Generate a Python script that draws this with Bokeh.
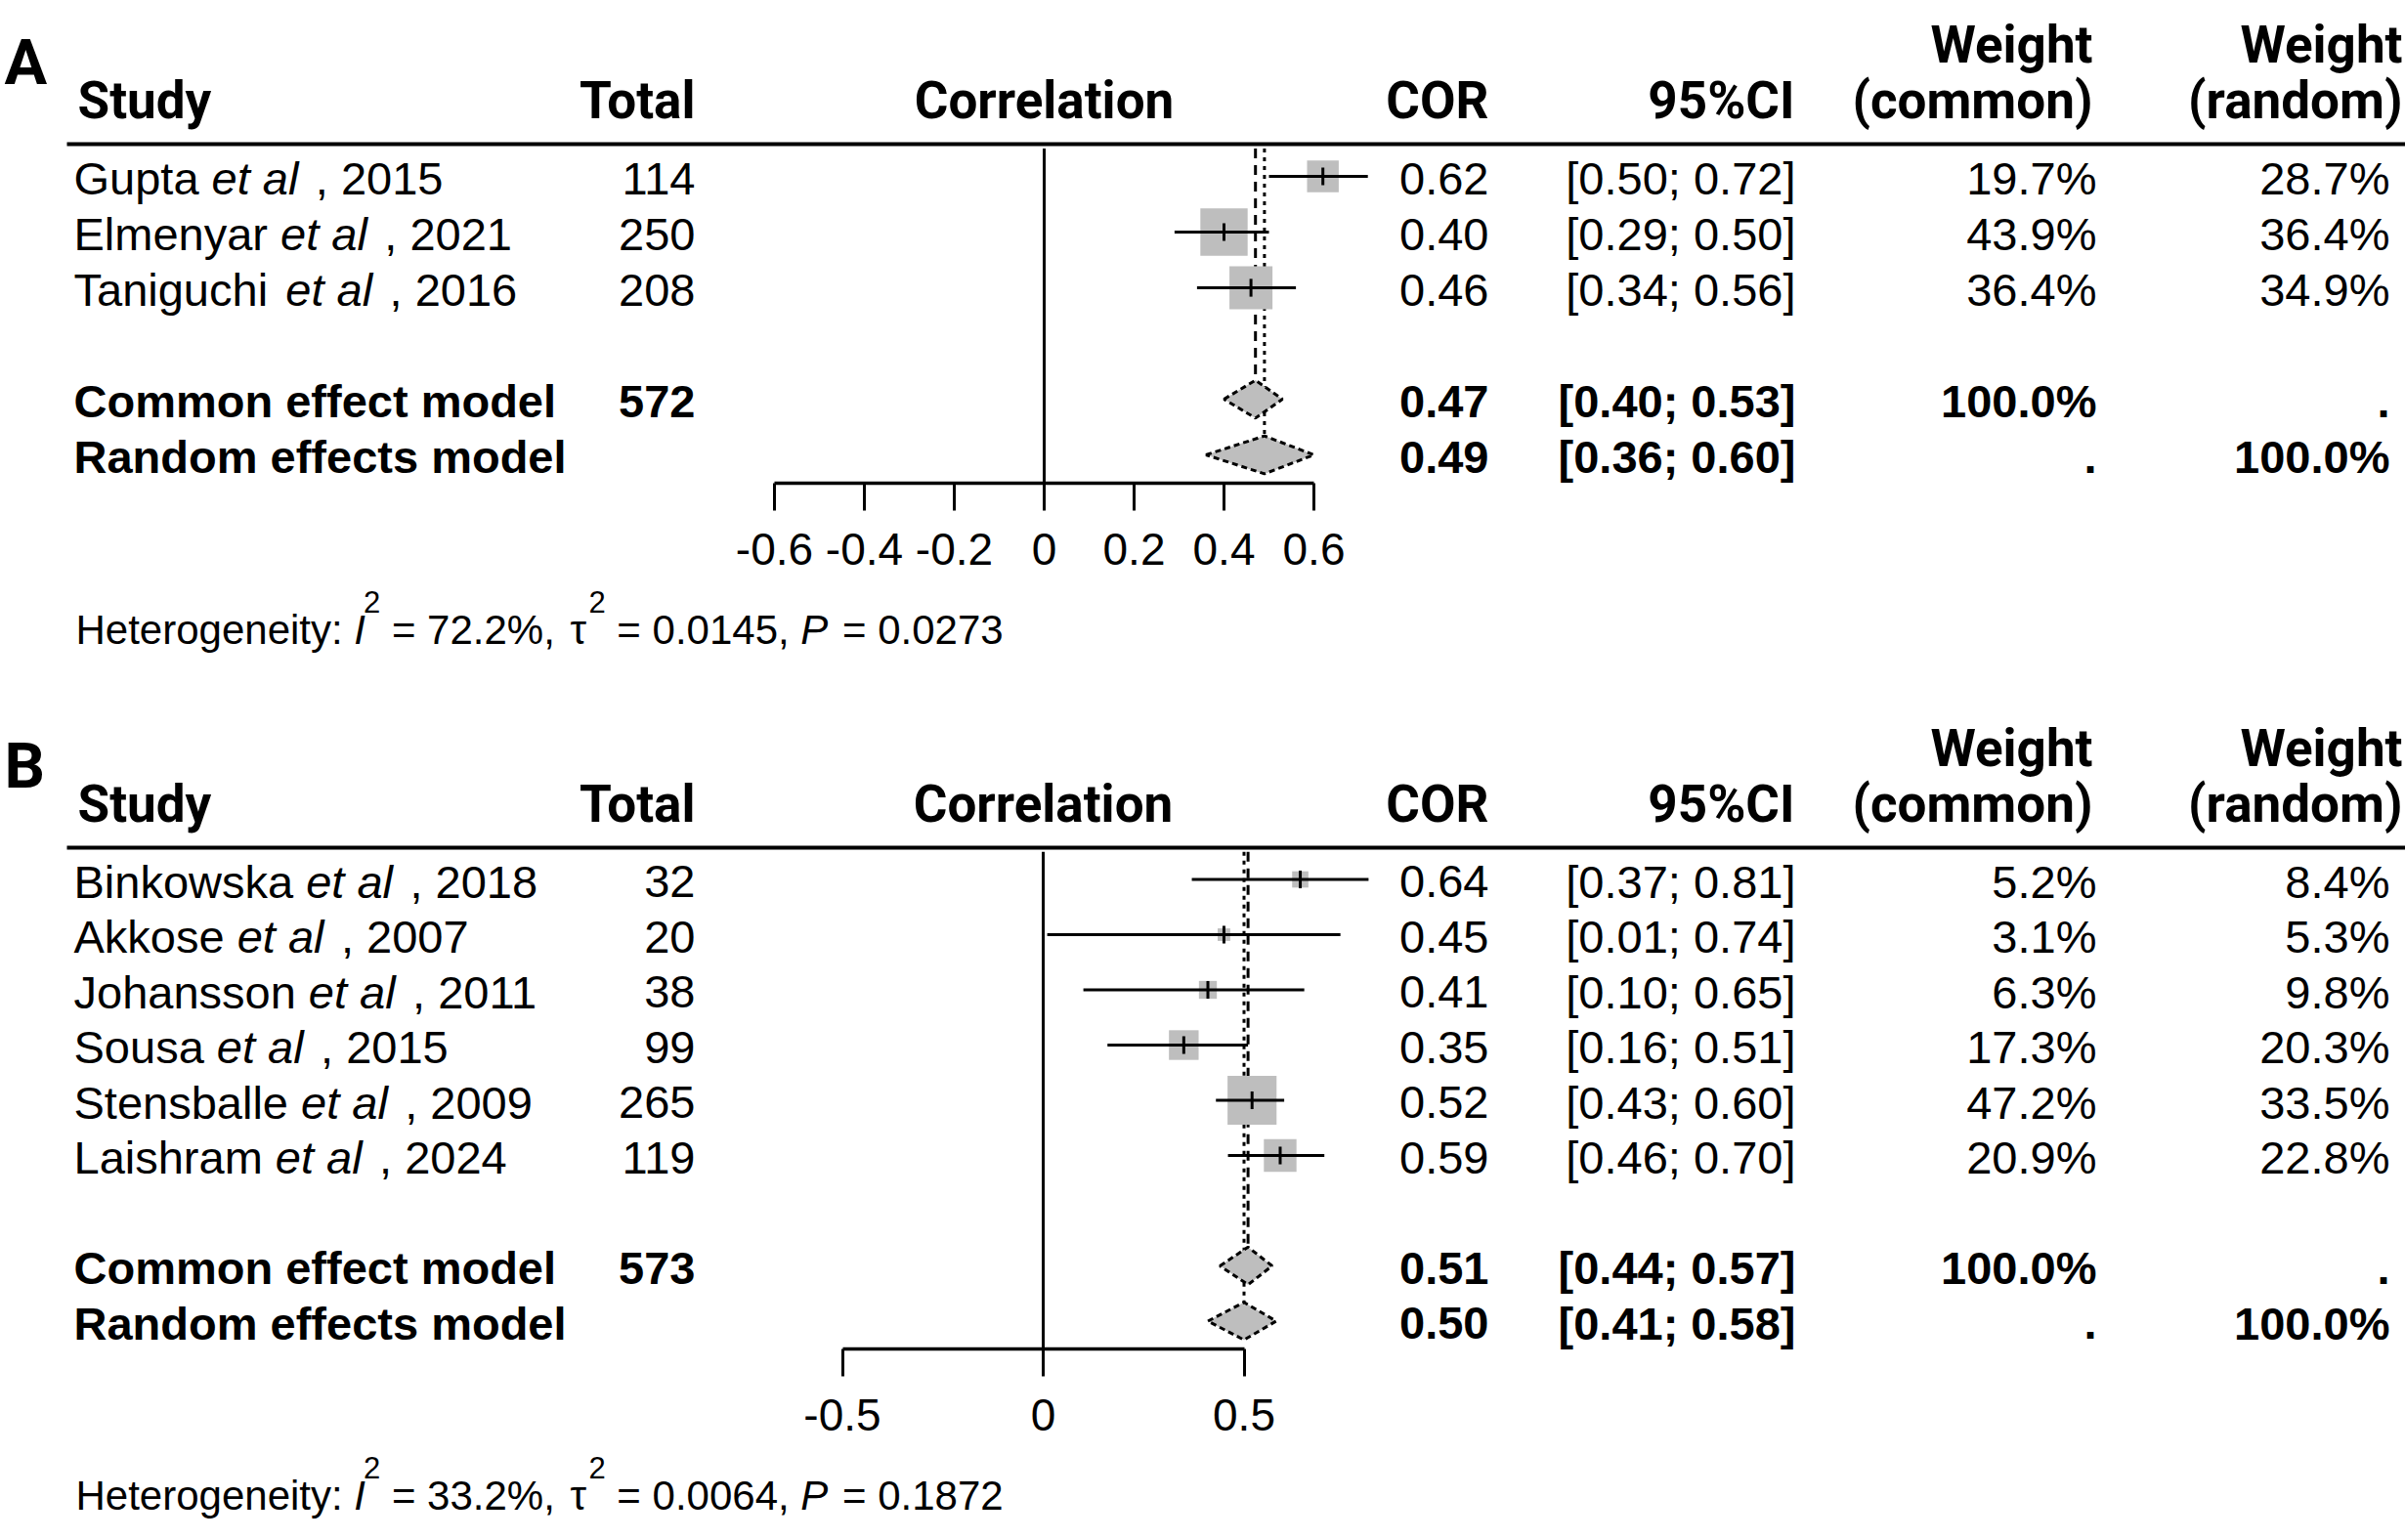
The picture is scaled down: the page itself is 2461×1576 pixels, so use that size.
from bokeh.plotting import figure
from bokeh.models import Range1d, LinearAxis, FixedTicker, ColumnDataSource
from bokeh.core.properties import value
from bokeh.embed import file_html
from bokeh.resources import INLINE

W, H = 2461, 1576

# ---------------- Panel A ----------------
a_author = ["Gupta", "Elmenyar", "Taniguchi"]
a_year = [2015, 2021, 2016]
a_total = [114, 250, 208]
a_cor = [0.62, 0.40, 0.46]
a_lower = [0.50, 0.29, 0.34]
a_upper = [0.72, 0.50, 0.56]
a_weight_common = [19.7, 43.9, 36.4]
a_weight_random = [28.7, 36.4, 34.9]
a_total_pooled = 572
a_common = [0.47, 0.40, 0.53]      # estimate, lower, upper
a_random = [0.49, 0.36, 0.60]
a_i2, a_tau2, a_pval = "72.2%", "0.0145", "0.0273"
a_ticks = [-0.6, -0.4, -0.2, 0, 0.2, 0.4, 0.6]
a_tick_labels = ["-0.6", "-0.4", "-0.2", "0", "0.2", "0.4", "0.6"]

# ---------------- Panel B ----------------
b_author = ["Binkowska", "Akkose", "Johansson", "Sousa", "Stensballe", "Laishram"]
b_year = [2018, 2007, 2011, 2015, 2009, 2024]
b_total = [32, 20, 38, 99, 265, 119]
b_cor = [0.64, 0.45, 0.41, 0.35, 0.52, 0.59]
b_lower = [0.37, 0.01, 0.10, 0.16, 0.43, 0.46]
b_upper = [0.81, 0.74, 0.65, 0.51, 0.60, 0.70]
b_weight_common = [5.2, 3.1, 6.3, 17.3, 47.2, 20.9]
b_weight_random = [8.4, 5.3, 9.8, 20.3, 33.5, 22.8]
b_total_pooled = 573
b_common = [0.51, 0.44, 0.57]
b_random = [0.50, 0.41, 0.58]
b_i2, b_tau2, b_pval = "33.2%", "0.0064", "0.1872"
b_ticks = [-0.5, 0, 0.5]
b_tick_labels = ["-0.5", "0", "0.5"]

BODY = "Liberation Sans"
HEAD = "Roboto"
GRAY = "#bebebe"
LIFT = -18   # baseline correction for text glyphs, screen px

# Arial / Liberation Sans advance widths (em) for laying out mixed-style labels
ADV = {' ': .278, ',': .278, '.': .278, ':': .278, '=': .584, '%': .889, 'τ': .45,
       'A': .667, 'B': .667, 'E': .667, 'G': .778, 'H': .722, 'I': .278, 'J': .5,
       'L': .556, 'P': .667, 'S': .667, 'T': .611,
       'a': .556, 'b': .556, 'c': .5, 'e': .556, 'g': .556, 'h': .556, 'i': .222,
       'k': .5, 'l': .222, 'm': .833, 'n': .556, 'o': .556, 'p': .556, 'r': .333,
       's': .5, 't': .278, 'u': .556, 'w': .722, 'y': .5}
for d in "0123456789":
    ADV[d] = .556


def tw(s, size):
    return sum(ADV.get(c, .556) for c in s) * size


p = figure(width=W, height=H, output_backend="svg", toolbar_location=None,
           x_range=Range1d(0, W), y_range=Range1d(H, 0),
           x_axis_type=None, y_axis_type=None, min_border=0)
p.outline_line_color = None
p.background_fill_color = "white"
p.border_fill_color = "white"


def put_text(x, y, texts, font, size, style="normal", align="left", xr="default", yr="default", y_offset=0):
    src = ColumnDataSource(dict(x=x, y=y, text=texts))
    p.text(x="x", y="y", text="text", source=src, text_font=value(font),
           text_font_size=value(f"{size}px"), text_font_style=style, text_align=align,
           text_baseline="alphabetic", text_color="black",
           x_range_name=xr, y_range_name=yr, y_offset=y_offset + LIFT)


def panel(tag, top, row0, dy, zero_px, unit_px, author, year, total, cor, lower, upper,
          wc, wr, total_pooled, common, random, i2, tau2, pval, ticks, tick_labels):
    xr, yr = "cor" + tag, "rows" + tag
    p.extra_x_ranges[xr] = Range1d(start=-zero_px / unit_px, end=(W - zero_px) / unit_px)
    p.extra_y_ranges[yr] = Range1d(start=(H - row0) / dy, end=-row0 / dy)

    n = len(author)
    rows = list(range(n))
    r_common, r_random = n + 1, n + 2
    axis_row = r_random + 0.5
    axis_px = row0 + axis_row * dy
    half = 0.34

    # panel letter and column headers
    put_text([4], [top + 81], [tag], HEAD, 65, "bold")
    put_text([79], [top + 120], ["Study"], HEAD, 53, "bold")
    put_text([711], [top + 120], ["Total"], HEAD, 53, "bold", "right")
    put_text([0], [top + 120], ["Correlation"], HEAD, 53, "bold", "center", xr=xr)
    put_text([1523], [top + 120], ["COR"], HEAD, 53, "bold", "right")
    put_text([1836], [top + 120], ["95%CI"], HEAD, 53, "bold", "right")
    put_text([2141, 2141], [top + 63, top + 120], ["Weight", "(common)"], HEAD, 53, "bold", "right")
    put_text([2458, 2458], [top + 63, top + 120], ["Weight", "(random)"], HEAD, 53, "bold", "right")
    p.segment(x0=[68], x1=[W], y0=[top + 147], y1=[top + 147], line_color="black", line_width=4)

    # study labels: author, italic "et al", year
    fs = 47
    x_auth = 75
    x_etal = [x_auth + tw(a + " ", fs) for a in author]
    x_year = [x + tw("et al", fs) + 0.37 * fs for x in x_etal]
    put_text([x_auth] * n, rows, author, BODY, fs, yr=yr, y_offset=20)
    put_text(x_etal, rows, ["et al"] * n, BODY, fs, "italic", yr=yr, y_offset=20)
    put_text(x_year, rows, [f", {y}" for y in year], BODY, fs, yr=yr, y_offset=20)

    put_text([711] * n, rows, [str(t) for t in total], BODY, fs, align="right", yr=yr, y_offset=20)
    put_text([1523] * n, rows, [f"{c:.2f}" for c in cor], BODY, fs, align="right", yr=yr, y_offset=20)
    put_text([1837] * n, rows, [f"[{lo:.2f}; {hi:.2f}]" for lo, hi in zip(lower, upper)], BODY, fs,
             align="right", yr=yr, y_offset=20)
    put_text([2145] * n, rows, [f"{w:.1f}%" for w in wc], BODY, fs, align="right", yr=yr, y_offset=20)
    put_text([2445] * n, rows, [f"{w:.1f}%" for w in wr], BODY, fs, align="right", yr=yr, y_offset=20)

    # pooled rows (bold)
    srows = [r_common, r_random]
    put_text([x_auth] * 2, srows, ["Common effect model", "Random effects model"], BODY, fs, "bold", yr=yr, y_offset=20)
    put_text([711], [r_common], [str(total_pooled)], BODY, fs, "bold", "right", yr=yr, y_offset=20)
    put_text([1523] * 2, srows, [f"{common[0]:.2f}", f"{random[0]:.2f}"], BODY, fs, "bold", "right", yr=yr, y_offset=20)
    put_text([1837] * 2, srows, [f"[{common[1]:.2f}; {common[2]:.2f}]", f"[{random[1]:.2f}; {random[2]:.2f}]"],
             BODY, fs, "bold", "right", yr=yr, y_offset=20)
    put_text([2145] * 2, srows, ["100.0%", "."], BODY, fs, "bold", "right", yr=yr, y_offset=20)
    put_text([2445] * 2, srows, [".", "100.0%"], BODY, fs, "bold", "right", yr=yr, y_offset=20)

    # line of no effect
    p.segment(x0=[0], x1=[0], y0=[-0.5], y1=[axis_row], line_color="black", line_width=3,
              x_range_name=xr, y_range_name=yr)
    # pooled estimate reference lines
    p.segment(x0=[common[0]], x1=[common[0]], y0=[-0.5], y1=[r_common - half], line_color="black",
              line_width=3, line_dash="10 7", x_range_name=xr, y_range_name=yr)
    p.segment(x0=[random[0]], x1=[random[0]], y0=[-0.5], y1=[r_random - half], line_color="black",
              line_width=3, line_dash="4 5", x_range_name=xr, y_range_name=yr)

    # study squares sized by common-effect weight
    sq = ColumnDataSource(dict(x=cor, y=rows, size=[7.3 * w ** 0.5 for w in wc],
                               lo=lower, hi=upper,
                               t0=[r - 0.16 for r in rows], t1=[r + 0.16 for r in rows]))
    p.scatter(x="x", y="y", size="size", marker="square", source=sq, fill_color=GRAY,
              line_color=None, x_range_name=xr, y_range_name=yr)
    p.segment(x0="lo", x1="hi", y0="y", y1="y", source=sq, line_color="black", line_width=3,
              x_range_name=xr, y_range_name=yr)
    p.segment(x0="x", x1="x", y0="t0", y1="t1", source=sq, line_color="black", line_width=3,
              x_range_name=xr, y_range_name=yr)

    # pooled diamonds
    xs = [[common[1], common[0], common[2], common[0]], [random[1], random[0], random[2], random[0]]]
    ys = [[r_common, r_common - half, r_common, r_common + half],
          [r_random, r_random - half, r_random, r_random + half]]
    p.patches(xs=xs, ys=ys, fill_color=GRAY, line_color="black", line_width=3, line_dash="6 4",
              x_range_name=xr, y_range_name=yr)

    # correlation axis
    ax = LinearAxis(x_range_name=xr, fixed_location=axis_px, bounds=(ticks[0], ticks[-1]),
                    ticker=FixedTicker(ticks=ticks),
                    major_label_overrides={t: l for t, l in zip(ticks, tick_labels)})
    ax.axis_line_width = 3.5
    ax.axis_line_color = "black"
    ax.major_tick_line_width = 3
    ax.major_tick_line_color = "black"
    ax.major_tick_out = 28
    ax.major_tick_in = 0
    ax.minor_tick_out = 0
    ax.minor_tick_in = 0
    ax.major_label_standoff = 24
    ax.major_label_text_font = BODY
    ax.major_label_text_font_size = "46px"
    ax.major_label_text_color = "black"
    p.add_layout(ax, "below")

    # heterogeneity statement (pieces laid out left to right; leading blanks become an x advance)
    base = axis_px + 168
    pieces = [("Heterogeneity: ", "normal", 42, 0, 0), ("I", "italic", 42, 0, -2), ("2", "normal", 31, 28, 0),
              (f" = {i2}, ", "normal", 42, 0, 4), ("τ", "normal", 42, 0, 0), ("2", "normal", 31, 28, 0),
              (f" = {tau2}, ", "normal", 42, 0, 0), ("P", "italic", 42, 0, 3), (f" = {pval}", "normal", 42, 0, 0)]
    x = 77
    for text, style, size, rise, extra in pieces:
        body = text.lstrip(" ")
        x += tw(text[:len(text) - len(body)], size)
        put_text([x], [base - rise], [body], BODY, size, style)
        x += tw(body, size) + extra


panel("A", 0, 180, 57, 1068, 460, a_author, a_year, a_total, a_cor, a_lower, a_upper,
      a_weight_common, a_weight_random, a_total_pooled, a_common, a_random,
      a_i2, a_tau2, a_pval, a_ticks, a_tick_labels)
panel("B", 720, 899.5, 56.5, 1067, 411, b_author, b_year, b_total, b_cor, b_lower, b_upper,
      b_weight_common, b_weight_random, b_total_pooled, b_common, b_random,
      b_i2, b_tau2, b_pval, b_ticks, b_tick_labels)

open("out.html", "w").write(file_html(p, INLINE, title="Forest plots"))
